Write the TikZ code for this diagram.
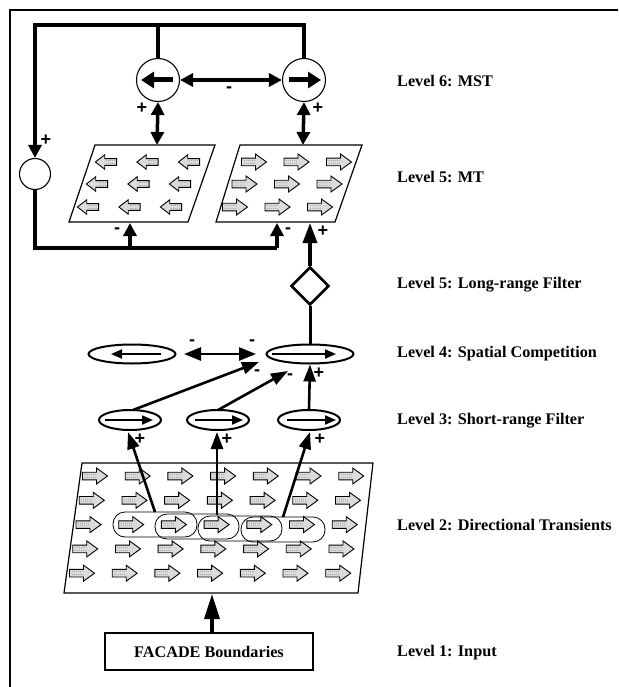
\documentclass[tikz,border=0pt]{standalone}
\usepackage{fontspec}
\setmainfont{Liberation Serif}
\newfontfamily\signfont{Liberation Sans}
\usetikzlibrary{arrows.meta,shapes.geometric}
\tikzset{
  blk/.pic={
    \draw[line width=0.9pt,fill=gray!28,line join=miter]
      (-12.5,-3.8) -- (1.5,-3.8) -- (1.5,-8) -- (12.5,0) -- (1.5,8) -- (1.5,3.8) -- (-12.5,3.8) -- cycle;
    \draw[gray!65,line width=0.9pt,dash pattern=on 1pt off 1pt] (-10.5,-1.3) -- (0,-1.3) (-10.5,1.3) -- (0,1.3);
  }
}
\begin{document}
\begin{tikzpicture}[x=1pt,y=-1pt,
  lbl/.style={anchor=west,font=\fontsize{16.2}{18}\selectfont\bfseries,inner sep=0},
  sgn/.style={font=\signfont\bfseries\fontsize{18}{18}\selectfont,inner sep=0},
  heavy/.style={line width=3.5pt},
  hv/.style={line width=3.5pt,-{Triangle[length=13pt,width=13pt]}},
  hvv/.style={line width=3.5pt,{Triangle[length=13pt,width=13pt]}-{Triangle[length=13pt,width=13pt]}},
  med/.style={line width=2.6pt,-{Triangle[length=17pt,width=12pt]}},
  medd/.style={line width=2.6pt,{Triangle[length=17pt,width=13pt]}-{Triangle[length=17pt,width=13pt]}},
  inarr/.style={line width=2pt,-{Triangle[length=11pt,width=9pt]}},
  circarr/.style={line width=5pt,-{Triangle[length=13pt,width=16pt]}},
  bigcirc/.style={circle,draw,line width=1.1pt,minimum size=43pt,inner sep=0},
  ell/.style={ellipse,draw,line width=2pt,inner sep=0},
  para/.style={line width=1.2pt,line join=miter},
  stad/.style={line width=0.8pt,rounded corners=12pt}
]
\useasboundingbox (0,0) rectangle (618,687);
% frame
\draw[line width=1.4pt] (10,687) -- (10,10) -- (618,10);

% ---------- Level 6 ----------
\node[bigcirc] (c6l) at (158,80) {};
\node[bigcirc] (c6r) at (304,80) {};
\draw[circarr] (173,80) -- (141,80);
\draw[circarr] (289,80) -- (321,80);
\node[circle,draw,line width=1.1pt,minimum size=31pt,inner sep=0] (cs) at (35,174) {};
\coordinate (tl) at (35,25);
\draw[hv] (c6r.north) |- (tl) -- (cs.north);
\draw[heavy] (c6l.north) -- (c6l.north |- tl);
\draw[hvv] (c6l.east) -- (c6r.west);
\node[sgn] at (229,90) {-};

% ---------- Level 5 MT ----------
\coordinate (l1) at (95,145); \coordinate (l2) at (215,145);
\coordinate (l3) at (188,222); \coordinate (l4) at (69,222);
\draw[para] (l1) -- (l2) -- (l3) -- (l4) -- cycle;
\coordinate (r1) at (240,145); \coordinate (r2) at (362,145);
\coordinate (r3) at (335,222); \coordinate (r4) at (216,222);
\draw[para] (r1) -- (r2) -- (r3) -- (r4) -- cycle;
\foreach \r/\yy in {0/162,1/184,2/207}{
  \foreach \c in {0,1,2}{
    \pic[xscale=-0.85,yscale=0.9] at ({106-9*\r+41.5*\c},\yy) {blk};
    \pic at ({254-9.5*\r+42.5*\c},\yy) {blk};
  }
}
\coordinate (mlt) at (157,145);
\coordinate (mrt) at (303,145);
\draw[hvv] (c6l.south) -- (mlt);
\draw[hvv] (c6r.south) -- (mrt);
\node[sgn] at (142,108) {+};
\node[sgn] at (318,108) {+};
\node[sgn] at (46,140) {+};

% bottom loop
\coordinate (j1) at (130,248);
\coordinate (j2) at (277,248);
\coordinate (mlb) at (130,223);
\coordinate (mrb) at (277,223);
\draw[heavy] (cs.south) |- (j2);
\draw[hv] (j2) -- (mrb);
\draw[hv] (j1) -- (mlb);
\node[sgn] at (117,231) {-};
\node[sgn] at (288,231) {-};

% ---------- Level 5 Long-range ----------
\node[diamond,draw,line width=2.6pt,minimum size=38pt,inner sep=0] (dm) at (310,286) {};
\coordinate (mrb2) at (310,223);
\draw[line width=3.5pt,-{Triangle[length=20pt,width=14pt]}] (dm.north) -- (mrb2);
\node[sgn] at (323,231) {+};

% ---------- Level 4 ----------
\node[ell,minimum width=87pt,minimum height=19pt] (e4l) at (132,354) {};
\node[ell,minimum width=87pt,minimum height=19pt] (e4r) at (310,354) {};
\draw[inarr] (161,354) -- (111,354);
\draw[inarr] (272,354) -- (336,354);
\draw[line width=3pt] (dm.south) -- (e4r.north);
\coordinate (d1) at (184,354); \coordinate (d2) at (256,354);
\draw[medd] (d1) -- (d2);
\node[sgn] at (192,343) {-};
\node[sgn] at (252,343) {-};

% ---------- Level 3 ----------
\node[ell,minimum width=62pt,minimum height=20pt] (e3a) at (130,420) {};
\node[ell,minimum width=62pt,minimum height=20pt] (e3b) at (218,420) {};
\node[ell,minimum width=62pt,minimum height=20pt] (e3c) at (309,420) {};
\draw[inarr] (105,420) -- (153,420);
\draw[inarr] (195,420) -- (243,420);
\draw[inarr] (287,420) -- (336,420);
\coordinate (a1) at (133,410); \coordinate (t1) at (259,362);
\coordinate (a2) at (218,410); \coordinate (t2) at (288,371);
\draw[med] (a1) -- (t1);
\draw[med] (a2) -- (t2);
\draw[med] (e3c.north) -- (e4r.south);
\node[sgn] at (257,373) {-};
\node[sgn] at (290,377) {-};
\node[sgn] at (319,373) {+};

% ---------- Level 2 ----------
\coordinate (q1) at (82,463); \coordinate (q2) at (373,463);
\coordinate (q3) at (358,593); \coordinate (q4) at (64,593);
\draw[para] (q1) -- (q2) -- (q3) -- (q4) -- cycle;
\foreach \r in {0,...,4}{
  \foreach \c in {0,...,6}{
    \pic at ({95+42.7*\c-3.25*\r},{476+24.3*\r}) {blk};
  }
}
\draw[stad] (113,512) rectangle (197,537);
\draw[stad] (155,514) rectangle (239,539);
\draw[stad] (198,516) rectangle (282,541);
\draw[stad] (241,517) rectangle (325,542);
\coordinate (s1) at (155,512);
\coordinate (s2) at (217,515);
\coordinate (s3) at (283,517);
\coordinate (b1) at (128,432);
\coordinate (b2) at (217,432);
\coordinate (b3) at (310,432);
\draw[med] (s1) -- (b1);
\draw[med] (s2) -- (b2);
\draw[med] (s3) -- (b3);
\node[sgn] at (140,439) {+};
\node[sgn] at (227,439) {+};
\node[sgn] at (320,439) {+};

% ---------- Level 1 ----------
\node[draw,line width=1.3pt,minimum width=208pt,minimum height=37pt,inner sep=0,
      font=\fontsize{16.2}{18}\selectfont\bfseries] (fb) at (209,651.5) {FACADE Boundaries};
\coordinate (q5) at (212,594);
\draw[line width=3.5pt,-{Triangle[length=25pt,width=15pt]}] (fb.north -| q5) -- (q5);

% ---------- labels ----------
\node[lbl] at (397,81) {Level 6: MST};
\node[lbl] at (397,177) {Level 5: MT};
\node[lbl] at (397,285) {Level 5: Long-range Filter};
\node[lbl] at (397,354) {Level 4: Spatial Competition};
\node[lbl] at (397,421) {Level 3: Short-range Filter};
\node[lbl] at (397,525) {Level 2: Directional Transients};
\node[lbl] at (397,653) {Level 1: Input};
\end{tikzpicture}
\end{document}
